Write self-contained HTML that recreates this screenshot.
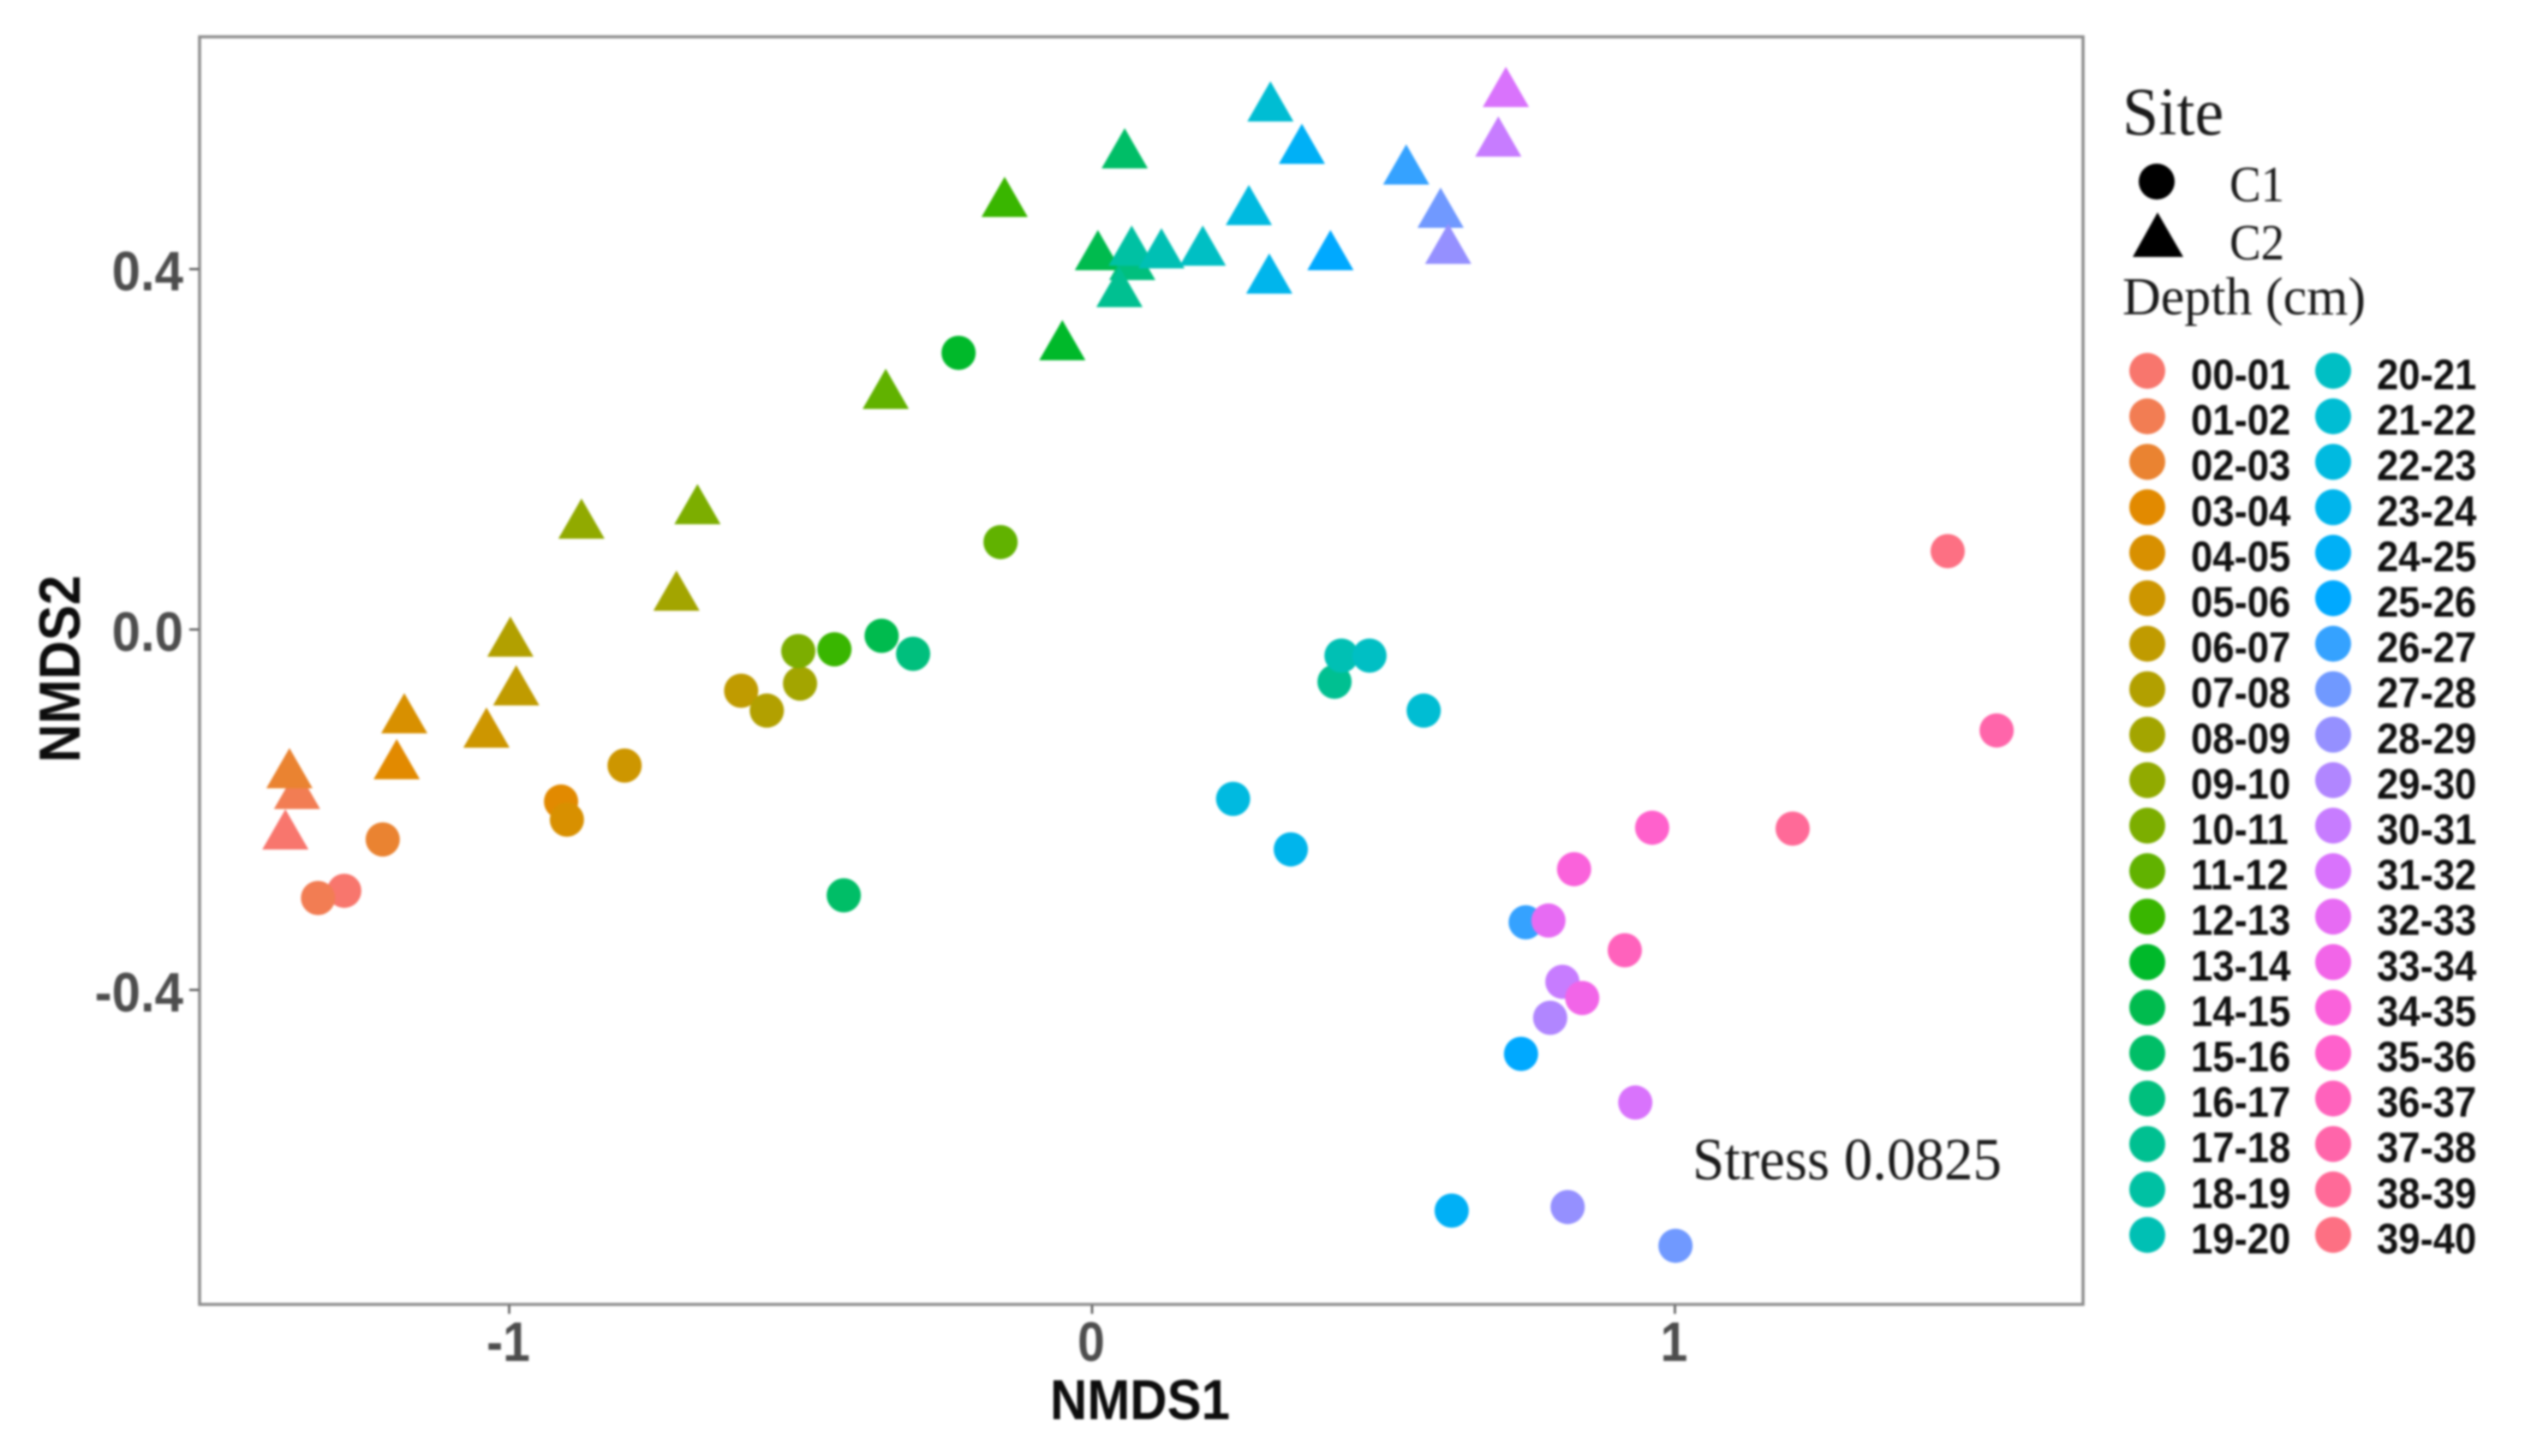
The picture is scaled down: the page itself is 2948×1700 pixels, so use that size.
<!DOCTYPE html>
<html lang="en">
<head>
<meta charset="utf-8">
<title>NMDS ordination by site and depth</title>
<style>
  html, body { margin: 0; padding: 0; background: #ffffff; width: 2948px; height: 1700px; overflow: hidden; }
  svg { display: block; filter: blur(1.3px); }
  .bold { font-family: "Liberation Sans", Arial, sans-serif; font-weight: 700; }
  .serif { font-family: "Liberation Serif", "Times New Roman", serif; fill: #1a1a1a; }
</style>
</head>
<body>
<svg id="chart" xmlns="http://www.w3.org/2000/svg" width="2948" height="1700" viewBox="0 0 2948 1700">
  <rect x="0" y="0" width="2948" height="1700" fill="#ffffff"/>
  <rect x="233" y="43" width="2199" height="1480" fill="none" stroke="#8c8c8c" stroke-width="3.5"/>
  <g id="ticks"></g>
  <g id="points"></g>
  <text class="serif" font-size="67" transform="translate(1976,1377) scale(1,1.05)">Stress 0.0825</text>
  <text class="bold" fill="#0d0d0d" font-size="60" text-anchor="middle" transform="translate(1331,1657) scale(1,1.1)">NMDS1</text>
  <text class="bold" fill="#0d0d0d" font-size="62.5" text-anchor="middle" transform="translate(93,781) rotate(-90) scale(1,1.08)">NMDS2</text>
  <g>
    <text class="serif" font-size="76" transform="translate(2478,157) scale(1,1.05)">Site</text>
    <circle cx="2518" cy="212" r="21" fill="#000000"/>
    <text class="serif" font-size="55" transform="translate(2603,235) scale(1,1.07)">C1</text>
    <polygon points="2519,248 2549,300 2490,300" fill="#000000"/>
    <text class="serif" font-size="55" transform="translate(2603,303) scale(1,1.07)">C2</text>
    <text class="serif" font-size="62" x="2478" y="367">Depth (cm)</text>
    <g id="depth-legend"></g>
  </g>
</svg>
<script>
const depthLevels = ["00-01","01-02","02-03","03-04","04-05","05-06","06-07","07-08","08-09","09-10",
  "10-11","11-12","12-13","13-14","14-15","15-16","16-17","17-18","18-19","19-20",
  "20-21","21-22","22-23","23-24","24-25","25-26","26-27","27-28","28-29","29-30",
  "30-31","31-32","32-33","33-34","34-35","35-36","36-37","37-38","38-39","39-40"];

const c1Depth = [0,1,2,3,4,5,6,7,8,10,11,12,13,14,15,16,17,19,20,21,22,23,24,25,26,27,28,29,30,31,32,33,34,35,36,37,38,39];
const c1X = [-1.283,-1.328,-1.217,-0.911,-0.901,-0.802,-0.602,-0.558,-0.501,-0.504,-0.157,-0.442,-0.229,-0.361,-0.426,-0.307,0.416,0.428,0.476,0.569,0.242,0.341,0.617,0.736,0.744,1.001,0.816,0.786,0.807,0.932,0.783,0.841,0.827,0.961,0.914,1.552,1.202,1.468];
const c1Y = [-0.290,-0.298,-0.233,-0.191,-0.211,-0.151,-0.068,-0.090,-0.060,-0.024,0.097,-0.022,0.307,-0.007,-0.295,-0.027,-0.058,-0.029,-0.029,-0.090,-0.188,-0.244,-0.645,-0.471,-0.325,-0.684,-0.641,-0.431,-0.391,-0.525,-0.323,-0.409,-0.266,-0.220,-0.356,-0.112,-0.221,0.087];

const c2Depth = [0,1,2,3,4,5,6,7,8,9,10,11,12,13,14,15,16,17,18,19,20,21,22,23,24,25,26,27,28,30,31];
const c2X = [-1.384,-1.364,-1.377,-1.193,-1.180,-1.039,-0.988,-0.998,-0.713,-0.876,-0.677,-0.354,-0.150,-0.051,0.010,0.056,0.069,0.047,0.068,0.119,0.190,0.306,0.269,0.304,0.360,0.409,0.539,0.598,0.611,0.697,0.710];
const c2Y = [-0.229,-0.184,-0.161,-0.151,-0.100,-0.116,-0.069,-0.015,0.036,0.116,0.132,0.260,0.473,0.314,0.414,0.527,0.403,0.373,0.419,0.416,0.419,0.579,0.464,0.388,0.532,0.414,0.509,0.461,0.421,0.540,0.595];

const xTicks = [-1, 0, 1];
const xTickLabels = ["-1", "0", "1"];
const yTicks = [-0.4, 0, 0.4];
const yTickLabels = ["-0.4", "0.0", "0.4"];

const SVGNS = "http://www.w3.org/2000/svg";
function scaleX(v) { return 1275 + 680.5 * v; }
function scaleY(v) { return 735 - 1052 * v; }

/* ggplot2 default discrete hue palette (HCL: c=100, l=65) */
function hueColor(i, n) {
  const h = (15 + 360 * i / n) * Math.PI / 180;
  const L = 65, C = 100;
  const u = C * Math.cos(h), v = C * Math.sin(h);
  const Y = Math.pow((L + 16) / 116, 3);
  const up = u / (13 * L) + 0.19784, vp = v / (13 * L) + 0.46834;
  const X = Y * 9 * up / (4 * vp);
  const Z = Y * (12 - 3 * up - 20 * vp) / (4 * vp);
  const lin = [
     3.2406 * X - 1.5372 * Y - 0.4986 * Z,
    -0.9689 * X + 1.8758 * Y + 0.0415 * Z,
     0.0557 * X - 0.2040 * Y + 1.0570 * Z
  ];
  const rgb = lin.map(function (c) {
    c = Math.max(0, Math.min(1, c));
    const g = c <= 0.0031308 ? 12.92 * c : 1.055 * Math.pow(c, 1 / 2.4) - 0.055;
    return Math.round(g * 255);
  });
  return "rgb(" + rgb.join(",") + ")";
}
function depthColor(i) { return hueColor(i, depthLevels.length); }

const ticksLayer = document.getElementById("ticks");
const pointsLayer = document.getElementById("points");
const legendLayer = document.getElementById("depth-legend");

xTicks.forEach(function (t, i) {
  const line = document.createElementNS(SVGNS, "line");
  
  
  line.setAttribute("x1", scaleX(t));
  line.setAttribute("x2", scaleX(t));
  line.setAttribute("y1", 1524);
  line.setAttribute("y2", 1534);
  line.setAttribute("stroke", "#555555");
  line.setAttribute("stroke-width", 2.5);
  ticksLayer.appendChild(line);
  const label = document.createElementNS(SVGNS, "text");
  
  
  label.setAttribute("class", "bold");
  label.setAttribute("fill", "#4d4d4d");
  label.setAttribute("font-size", 57);
  label.setAttribute("text-anchor", "middle");
  label.setAttribute("transform", "translate(" + (scaleX(t) - 1) + ",1589) scale(1,1.14)");
  label.textContent = xTickLabels[i];
  ticksLayer.appendChild(label);
});

yTicks.forEach(function (t, i) {
  const line = document.createElementNS(SVGNS, "line");
  
  
  line.setAttribute("x1", 221);
  line.setAttribute("x2", 232);
  line.setAttribute("y1", scaleY(t));
  line.setAttribute("y2", scaleY(t));
  line.setAttribute("stroke", "#555555");
  line.setAttribute("stroke-width", 2.5);
  ticksLayer.appendChild(line);
  const label = document.createElementNS(SVGNS, "text");
  
  
  label.setAttribute("class", "bold");
  label.setAttribute("fill", "#4d4d4d");
  label.setAttribute("font-size", 60);
  label.setAttribute("text-anchor", "end");
  label.setAttribute("transform", "translate(214," + (scaleY(t) + 25) + ") scale(1,1.08)");
  label.textContent = yTickLabels[i];
  ticksLayer.appendChild(label);
});

c1X.forEach(function (x, i) {
  const pt = document.createElementNS(SVGNS, "circle");
  
  
  pt.setAttribute("cx", scaleX(x));
  pt.setAttribute("cy", scaleY(c1Y[i]));
  pt.setAttribute("r", 20);
  pt.setAttribute("fill", depthColor(c1Depth[i]));
  pointsLayer.appendChild(pt);
});

c2X.forEach(function (x, i) {
  const cx = scaleX(x), cy = scaleY(c2Y[i]);
  const pt = document.createElementNS(SVGNS, "polygon");
  
  
  pt.setAttribute("points", cx + "," + (cy - 31) + " " + (cx + 27) + "," + (cy + 16) + " " + (cx - 27) + "," + (cy + 16));
  pt.setAttribute("fill", depthColor(c2Depth[i]));
  pointsLayer.appendChild(pt);
});

depthLevels.forEach(function (name, i) {
  const col = i < 20 ? 0 : 1;
  const row = i % 20;
  const y = 433 + row * 53.1;
  const swatch = document.createElementNS(SVGNS, "circle");
  
  
  swatch.setAttribute("cx", col === 0 ? 2507 : 2724);
  swatch.setAttribute("cy", y);
  swatch.setAttribute("r", 21);
  swatch.setAttribute("fill", depthColor(i));
  legendLayer.appendChild(swatch);
  const label = document.createElementNS(SVGNS, "text");
  
  
  label.setAttribute("class", "bold");
  label.setAttribute("fill", "#111111");
  label.setAttribute("font-size", 45.5);
  label.setAttribute("transform", "translate(" + (col === 0 ? 2558 : 2775) + "," + (y + 21.5) + ") scale(1,1.11)");
  label.textContent = name;
  legendLayer.appendChild(label);
});
</script>
</body>
</html>
